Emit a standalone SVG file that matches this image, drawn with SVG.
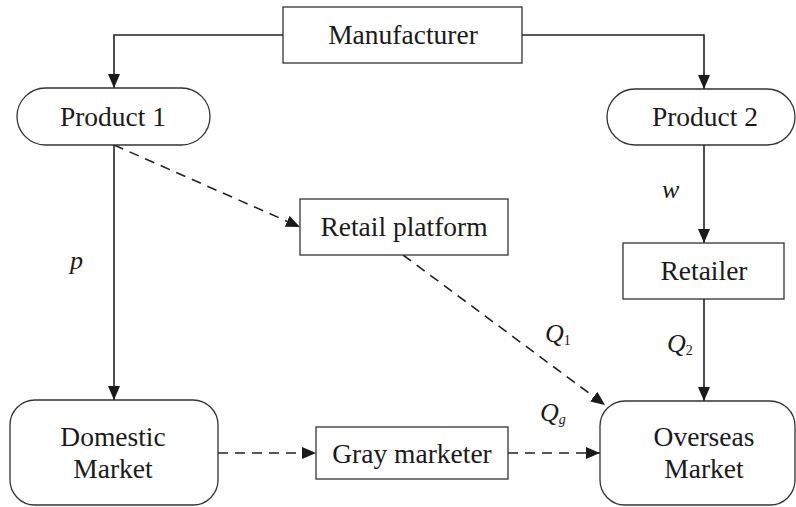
<svg xmlns="http://www.w3.org/2000/svg" width="796" height="507" viewBox="0 0 796 507">
<defs>
<marker id="ah" markerWidth="14" markerHeight="12" refX="14" refY="6" orient="auto" markerUnits="userSpaceOnUse">
<path d="M0,0 L14,6 L0,12 Z" fill="#1a1a1a"/>
</marker>
<style>
.box{fill:#fff;stroke:#333;stroke-width:1.3}
.t{font-family:'Liberation Serif','Times New Roman',serif;font-size:27.5px;fill:#1a1a1a;text-anchor:middle}
.lbl{font-family:'Liberation Serif','Times New Roman',serif;font-size:26px;font-style:italic;fill:#1a1a1a}
.sub{font-size:14px}
.c{fill:none;stroke:#222;stroke-width:1.6}
.d{fill:none;stroke:#222;stroke-width:1.6;stroke-dasharray:10 7}
</style>
</defs>
<rect width="796" height="507" fill="#fff"/>
<g id="connectors">
<path class="c" d="M283,35 H114 V88" marker-end="url(#ah)"/>
<path class="c" d="M522,35 H704 V89" marker-end="url(#ah)"/>
<path class="c" d="M114,145 V400" marker-end="url(#ah)"/>
<path class="d" d="M114,145 L300,227" marker-end="url(#ah)"/>
<path class="c" d="M704,145 V243" marker-end="url(#ah)"/>
<path class="c" d="M704,299 V401" marker-end="url(#ah)"/>
<path class="d" d="M403,255 L605,405" marker-end="url(#ah)"/>
<path class="d" d="M218,453 H316" marker-end="url(#ah)"/>
<path class="d" d="M508,453 H600" marker-end="url(#ah)"/>
</g>
<g id="labels">
<text class="lbl" x="70" y="269">p</text>
<text class="lbl" x="662" y="198">w</text>
<text class="lbl" x="545" y="342">Q<tspan class="sub" font-style="normal" dy="3">1</tspan></text>
<text class="lbl" x="667" y="352">Q<tspan class="sub" font-style="normal" dy="3">2</tspan></text>
<text class="lbl" x="540" y="421">Q<tspan class="sub" dy="3">g</tspan></text>
</g>
<g id="manufacturer">
<rect class="box" x="283" y="7" width="239" height="56"/>
<text class="t" x="403" y="44">Manufacturer</text>
</g>
<g id="product1">
<rect class="box" x="17" y="88" width="193" height="57" rx="28.5"/>
<text class="t" x="113" y="126">Product 1</text>
</g>
<g id="product2">
<rect class="box" x="607" y="89" width="188" height="56" rx="28"/>
<text class="t" x="705" y="126">Product 2</text>
</g>
<g id="retail-platform">
<rect class="box" x="300" y="199" width="208" height="56"/>
<text class="t" x="404" y="236">Retail platform</text>
</g>
<g id="retailer">
<rect class="box" x="623" y="243" width="161" height="56"/>
<text class="t" x="704" y="280">Retailer</text>
</g>
<g id="domestic-market">
<rect class="box" x="10" y="400" width="208" height="105" rx="25"/>
<text class="t" x="113" y="446">Domestic</text>
<text class="t" x="113" y="478">Market</text>
</g>
<g id="gray-marketer">
<rect class="box" x="316" y="427" width="192" height="52"/>
<text class="t" x="412" y="463">Gray marketer</text>
</g>
<g id="overseas-market">
<rect class="box" x="600" y="401" width="195" height="104" rx="25"/>
<text class="t" x="704" y="446">Overseas</text>
<text class="t" x="704" y="478">Market</text>
</g>
</svg>
